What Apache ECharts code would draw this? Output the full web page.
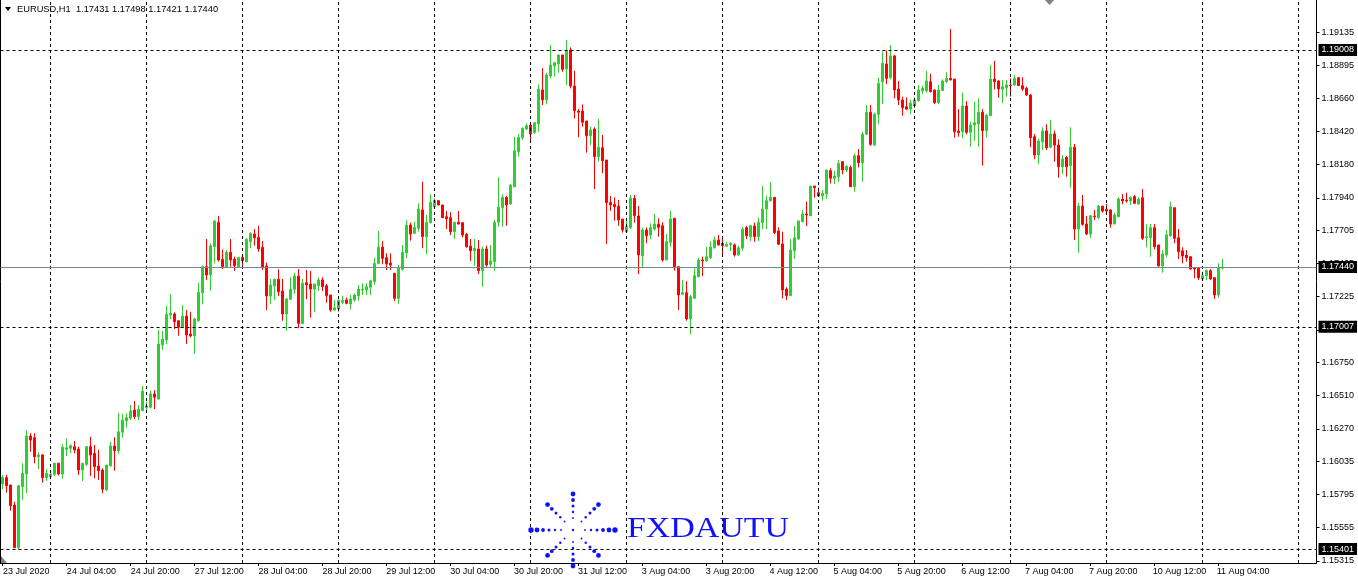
<!DOCTYPE html>
<html>
<head>
<meta charset="utf-8">
<style>
html,body{margin:0;padding:0;background:#fff;}
#chart{width:1358px;height:582px;}
</style>
<script src="https://cdn.jsdelivr.net/npm/echarts@6.0.0/dist/echarts.min.js"></script>
</head>
<body>
<div id="chart"></div>
<script>
// EURUSD H1, bars from 23 Jul 2020 12:00 to 11 Aug 2020 05:00
const open = [
1.15871,1.15917,1.15864,1.15719,1.15411,1.15852,1.15943,1.16218,1.16206,1.16068,
1.16081,1.15917,1.15924,1.15941,1.16021,1.15943,1.16122,1.16129,1.16141,1.16124,
1.15972,1.16013,1.16141,1.16093,1.16001,1.15972,1.15828,1.16003,1.16146,1.16112,
1.16245,1.16328,1.16346,1.16406,1.16358,1.16401,1.16423,1.16425,1.16522,1.16485,
1.16876,1.16912,1.17093,1.17100,1.17051,1.17001,1.17085,1.16955,1.16943,1.17051,
1.17254,1.17442,1.17382,1.17586,1.17763,1.17495,1.17437,1.17546,1.17497,1.17442,
1.17510,1.17478,1.17622,1.17678,1.17654,1.17582,1.17447,1.17230,1.17304,1.17351,
1.17266,1.17100,1.17206,1.17278,1.17374,1.17032,1.17326,1.17317,1.17280,1.17304,
1.17346,1.17304,1.17237,1.17129,1.17136,1.17184,1.17201,1.17172,1.17201,1.17232,
1.17273,1.17273,1.17293,1.17333,1.17466,1.17584,1.17507,1.17468,1.17394,1.17213,
1.17423,1.17541,1.17743,1.17683,1.17719,1.17852,1.17659,1.17760,1.17875,1.17919,
1.17888,1.17803,1.17796,1.17695,1.17763,1.17760,1.17676,1.17591,1.17557,1.17570,
1.17413,1.17570,1.17459,1.17478,1.17763,1.17868,1.17943,1.17895,1.18020,1.18273,
1.18374,1.18437,1.18466,1.18413,1.18473,1.18719,1.18647,1.18820,1.18892,1.18907,
1.18972,1.18871,1.19008,1.18748,1.18567,1.18567,1.18495,1.18389,1.18437,1.18237,
1.18302,1.18213,1.17907,1.17893,1.17880,1.17786,1.17695,1.17724,1.17936,1.17808,
1.17521,1.17707,1.17671,1.17714,1.17750,1.17738,1.17490,1.17618,1.17791,1.17442,
1.17242,1.17254,1.17064,1.17213,1.17369,1.17490,1.17483,1.17507,1.17579,1.17635,
1.17611,1.17589,1.17599,1.17599,1.17526,1.17575,1.17724,1.17659,1.17736,1.17659,
1.17760,1.17859,1.17919,1.17943,1.17700,1.17606,1.17280,1.17232,1.17557,1.17642,
1.17767,1.17823,1.17810,1.18025,1.17977,1.17953,1.17967,1.18136,1.18081,1.18092,
1.18201,1.18141,1.18160,1.18020,1.18244,1.18193,1.18399,1.18558,1.18321,1.18543,
1.18779,1.18907,1.18808,1.18965,1.18726,1.18647,1.18598,1.18581,1.18603,1.18642,
1.18714,1.18714,1.18779,1.18719,1.18627,1.18714,1.18779,1.18803,1.18798,1.18423,
1.18417,1.18603,1.18413,1.18466,1.18473,1.18558,1.18425,1.18533,1.18798,1.18784,
1.18726,1.18736,1.18755,1.18755,1.18808,1.18750,1.18731,1.18683,1.18381,1.18249,
1.18345,1.18423,1.18305,1.18401,1.18321,1.18164,1.18232,1.18172,1.18305,1.17714,
1.17880,1.17750,1.17678,1.17808,1.17796,1.17880,1.17857,1.17852,1.17750,1.17803,
1.17931,1.17924,1.17917,1.17948,1.17895,1.17940,1.17651,1.17651,1.17724,1.17599,
1.17447,1.17526,1.17664,1.17868,1.17651,1.17557,1.17526,1.17514,1.17434,1.17430,
1.17353,1.17377,1.17413,1.17362,1.17237,1.17431];
const close = [
1.15917,1.15859,1.15714,1.15411,1.15859,1.15948,1.16218,1.16189,1.16068,1.16081,
1.15917,1.15948,1.15943,1.16021,1.15943,1.16136,1.16133,1.16148,1.16117,1.15972,
1.16021,1.16141,1.16081,1.15996,1.15967,1.15833,1.16008,1.16146,1.16112,1.16249,
1.16334,1.16350,1.16399,1.16358,1.16411,1.16543,1.16435,1.16522,1.16498,1.16883,
1.16919,1.17098,1.17105,1.17044,1.17004,1.17085,1.16948,1.16941,1.17064,1.17257,
1.17442,1.17382,1.17593,1.17772,1.17490,1.17442,1.17546,1.17490,1.17449,1.17507,
1.17485,1.17640,1.17683,1.17651,1.17570,1.17434,1.17230,1.17310,1.17351,1.17261,
1.17100,1.17208,1.17280,1.17374,1.17032,1.17322,1.17310,1.17280,1.17317,1.17346,
1.17297,1.17232,1.17129,1.17145,1.17201,1.17196,1.17177,1.17208,1.17237,1.17280,
1.17280,1.17297,1.17340,1.17466,1.17584,1.17502,1.17461,1.17454,1.17213,1.17430,
1.17546,1.17743,1.17678,1.17726,1.17859,1.17659,1.17763,1.17907,1.17919,1.17888,
1.17796,1.17789,1.17695,1.17763,1.17750,1.17671,1.17586,1.17557,1.17575,1.17413,
1.17570,1.17454,1.17483,1.17763,1.17871,1.17943,1.17888,1.18032,1.18280,1.18377,
1.18442,1.18461,1.18401,1.18482,1.18726,1.18647,1.18827,1.18900,1.18916,1.18972,
1.18868,1.19008,1.18748,1.18569,1.18558,1.18485,1.18389,1.18430,1.18237,1.18305,
1.18208,1.17904,1.17888,1.17875,1.17779,1.17707,1.17736,1.17936,1.17810,1.17526,
1.17707,1.17666,1.17724,1.17750,1.17726,1.17490,1.17622,1.17786,1.17442,1.17237,
1.17254,1.17064,1.17225,1.17377,1.17490,1.17483,1.17514,1.17584,1.17635,1.17599,
1.17594,1.17604,1.17611,1.17526,1.17579,1.17714,1.17666,1.17738,1.17659,1.17763,
1.17859,1.17919,1.17943,1.17688,1.17604,1.17273,1.17232,1.17562,1.17651,1.17772,
1.17823,1.17815,1.18025,1.18013,1.17953,1.17972,1.18141,1.18081,1.18097,1.18189,
1.18141,1.18165,1.18020,1.18244,1.18193,1.18401,1.18558,1.18326,1.18545,1.18767,
1.18912,1.18803,1.18965,1.18719,1.18647,1.18591,1.18581,1.18623,1.18647,1.18719,
1.18731,1.18784,1.18707,1.18627,1.18719,1.18784,1.18803,1.18791,1.18417,1.18410,
1.18603,1.18413,1.18466,1.18482,1.18558,1.18425,1.18538,1.18798,1.18779,1.18726,
1.18743,1.18755,1.18750,1.18803,1.18750,1.18726,1.18683,1.18374,1.18249,1.18350,
1.18423,1.18302,1.18401,1.18321,1.18164,1.18220,1.18164,1.18305,1.17714,1.17880,
1.17748,1.17678,1.17810,1.17803,1.17880,1.17844,1.17844,1.17750,1.17815,1.17931,
1.17917,1.17917,1.17943,1.17900,1.17931,1.17647,1.17659,1.17724,1.17586,1.17447,
1.17533,1.17671,1.17875,1.17647,1.17550,1.17519,1.17507,1.17425,1.17425,1.17362,
1.17377,1.17413,1.17353,1.17237,1.17437,1.17440];
const low = [
1.15835,1.15808,1.15678,1.15411,1.15401,1.15755,1.15804,1.16105,1.16021,1.15977,
1.15881,1.15893,1.15905,1.15929,1.15934,1.15909,1.16073,1.16093,1.16093,1.15936,
1.15893,1.16001,1.15929,1.15912,1.15900,1.15804,1.15820,1.15996,1.15967,1.16088,
1.16206,1.16278,1.16334,1.16341,1.16334,1.16401,1.16394,1.16418,1.16413,1.16485,
1.16840,1.16883,1.17064,1.16991,1.16943,1.17001,1.16883,1.16931,1.16811,1.17044,
1.17170,1.17346,1.17268,1.17466,1.17478,1.17425,1.17437,1.17442,1.17411,1.17437,
1.17437,1.17473,1.17575,1.17594,1.17550,1.17418,1.17129,1.17172,1.17201,1.17230,
1.17051,1.16979,1.17206,1.17244,1.16996,1.17032,1.17206,1.17073,1.17116,1.17266,
1.17266,1.17181,1.17116,1.17121,1.17116,1.17170,1.17170,1.17134,1.17189,1.17196,
1.17237,1.17237,1.17237,1.17310,1.17459,1.17459,1.17418,1.17418,1.17194,1.17174,
1.17413,1.17502,1.17630,1.17678,1.17695,1.17575,1.17533,1.17755,1.17864,1.17883,
1.17796,1.17714,1.17671,1.17642,1.17748,1.17654,1.17579,1.17483,1.17449,1.17389,
1.17297,1.17442,1.17434,1.17413,1.17731,1.17731,1.17738,1.17888,1.18016,1.18237,
1.18357,1.18430,1.18350,1.18401,1.18417,1.18610,1.18615,1.18803,1.18815,1.18844,
1.18851,1.18755,1.18731,1.18514,1.18377,1.18454,1.18266,1.18321,1.18003,1.18201,
1.18117,1.17606,1.17846,1.17774,1.17738,1.17688,1.17695,1.17714,1.17760,1.17389,
1.17437,1.17611,1.17640,1.17702,1.17659,1.17478,1.17490,1.17586,1.17413,1.17129,
1.17237,1.17051,1.16953,1.17208,1.17365,1.17374,1.17478,1.17497,1.17572,1.17594,
1.17526,1.17584,1.17555,1.17514,1.17521,1.17555,1.17642,1.17627,1.17622,1.17627,
1.17712,1.17714,1.17912,1.17678,1.17599,1.17213,1.17201,1.17232,1.17497,1.17635,
1.17763,1.17736,1.17810,1.17940,1.17948,1.17919,1.17931,1.18044,1.18040,1.18056,
1.18110,1.18124,1.18020,1.17984,1.18160,1.18056,1.18399,1.18316,1.18316,1.18471,
1.18618,1.18762,1.18796,1.18659,1.18610,1.18533,1.18574,1.18545,1.18587,1.18634,
1.18690,1.18699,1.18702,1.18618,1.18618,1.18712,1.18772,1.18791,1.18374,1.18381,
1.18370,1.18399,1.18309,1.18352,1.18309,1.18172,1.18377,1.18533,1.18724,1.18663,
1.18623,1.18671,1.18671,1.18750,1.18750,1.18714,1.18676,1.18305,1.18220,1.18184,
1.18285,1.18285,1.18298,1.18201,1.18085,1.18112,1.18092,1.18013,1.17635,1.17543,
1.17738,1.17671,1.17651,1.17779,1.17786,1.17832,1.17828,1.17724,1.17750,1.17803,
1.17893,1.17904,1.17888,1.17895,1.17888,1.17635,1.17582,1.17514,1.17567,1.17442,
1.17398,1.17510,1.17659,1.17611,1.17497,1.17466,1.17478,1.17418,1.17358,1.17346,
1.17346,1.17346,1.17346,1.17208,1.17218,1.17421];
const high = [
1.15936,1.15936,1.15864,1.15743,1.15864,1.16021,1.16261,1.16238,1.16238,1.16100,
1.16088,1.15979,1.15967,1.16025,1.16025,1.16158,1.16201,1.16158,1.16182,1.16141,
1.16021,1.16141,1.16213,1.16153,1.16117,1.15984,1.16008,1.16177,1.16209,1.16386,
1.16377,1.16382,1.16442,1.16471,1.16442,1.16579,1.16466,1.16545,1.16550,1.16984,
1.16977,1.17158,1.17244,1.17112,1.17051,1.17165,1.17129,1.17116,1.17073,1.17326,
1.17449,1.17642,1.17611,1.17779,1.17808,1.17567,1.17562,1.17642,1.17514,1.17514,
1.17521,1.17647,1.17690,1.17714,1.17736,1.17627,1.17471,1.17353,1.17353,1.17423,
1.17353,1.17218,1.17365,1.17398,1.17425,1.17353,1.17418,1.17411,1.17317,1.17365,
1.17365,1.17317,1.17237,1.17201,1.17201,1.17232,1.17218,1.17237,1.17249,1.17310,
1.17322,1.17322,1.17346,1.17507,1.17700,1.17627,1.17538,1.17538,1.17394,1.17454,
1.17599,1.17779,1.17760,1.17767,1.17900,1.18056,1.17815,1.17965,1.17936,1.17924,
1.17888,1.17844,1.17835,1.17767,1.17844,1.17763,1.17687,1.17642,1.17642,1.17635,
1.17586,1.17594,1.17599,1.17779,1.18088,1.17965,1.17953,1.18039,1.18381,1.18401,
1.18449,1.18478,1.18473,1.18482,1.18760,1.18876,1.18844,1.19044,1.18923,1.18972,
1.18972,1.19080,1.19027,1.18858,1.18581,1.18615,1.18495,1.18454,1.18449,1.18509,
1.18394,1.18213,1.17953,1.17943,1.17924,1.17786,1.17774,1.17960,1.17960,1.17880,
1.17724,1.17726,1.17755,1.17823,1.17791,1.17763,1.17678,1.17846,1.17796,1.17442,
1.17346,1.17338,1.17237,1.17430,1.17507,1.17514,1.17586,1.17627,1.17659,1.17671,
1.17654,1.17622,1.17618,1.17611,1.17594,1.17731,1.17736,1.17743,1.17760,1.17796,
1.18025,1.17953,1.18056,1.17943,1.17726,1.17695,1.17293,1.17642,1.17736,1.17774,
1.17852,1.17912,1.18025,1.18025,1.18013,1.17996,1.18141,1.18153,1.18133,1.18213,
1.18201,1.18177,1.18172,1.18261,1.18292,1.18417,1.18610,1.18610,1.18555,1.18808,
1.18996,1.19003,1.19044,1.18972,1.18784,1.18671,1.18666,1.18647,1.18666,1.18755,
1.18750,1.18856,1.18835,1.18724,1.18755,1.18796,1.18847,1.19160,1.18798,1.18581,
1.18699,1.18639,1.18490,1.18634,1.18659,1.18581,1.18545,1.18900,1.18929,1.18791,
1.18791,1.18791,1.18803,1.18827,1.18808,1.18811,1.18743,1.18690,1.18401,1.18365,
1.18449,1.18471,1.18502,1.18425,1.18363,1.18249,1.18242,1.18449,1.18329,1.17904,
1.17960,1.17808,1.17815,1.17852,1.17888,1.17880,1.17895,1.17857,1.17832,1.17943,
1.17967,1.17977,1.17948,1.17960,1.17943,1.18003,1.17750,1.17750,1.17750,1.17599,
1.17562,1.17707,1.17912,1.17868,1.17714,1.17582,1.17562,1.17514,1.17437,1.17434,
1.17406,1.17423,1.17425,1.17365,1.17466,1.17498];

// time axis labels, one every 16 bars
const timeLabels = ["23 Jul 2020","24 Jul 04:00","24 Jul 20:00","27 Jul 12:00","28 Jul 04:00",
  "28 Jul 20:00","29 Jul 12:00","30 Jul 04:00","30 Jul 20:00","31 Jul 12:00","3 Aug 04:00",
  "3 Aug 20:00","4 Aug 12:00","5 Aug 04:00","5 Aug 20:00","6 Aug 12:00","7 Aug 04:00",
  "7 Aug 20:00","10 Aug 12:00","11 Aug 04:00"];
const labelStep = 16;
// day separators (bar index of each 00:00)
const daySeparators = [12,36,60,84,108,132,156,180,204,228,252,276,300,324];
// price scale labels
const priceTicks = [1.19135,1.18895,1.18660,1.18420,1.18180,1.17940,1.17705,1.17465,1.17225,
  1.16985,1.16750,1.16510,1.16270,1.16035,1.15795,1.15555,1.15315];
const hLevels = [1.19008, 1.17007, 1.15401];
const bidPrice = 1.17440;
const header = "EURUSD,H1  1.17431 1.17498 1.17421 1.17440";
const watermark = "FXDAUTU";

const SLOTS = 329;
const cats = [];
for (let i = 0; i < SLOTS; i++) cats.push(String(i));
const candles = open.map((o, i) => [o, close[i], low[i], high[i]]);

const FONT = '"Liberation Sans", Arial, sans-serif';
const showLabel = (idx) => idx % labelStep === 0 && idx / labelStep < timeLabels.length;
const Y_MIN = 1.15300, Y_MAX = 1.193694;

const boxLabel = (v) => ({
  show: true, position: 'end', distance: 2, formatter: v.toFixed(5),
  backgroundColor: '#000', color: '#fff', fontFamily: FONT, fontSize: 9,
  padding: [2, 3, 1, 3]
});

const levelSeries = hLevels.map((v, k) => ({
  type: 'line', name: 'level' + k, data: [], silent: true,
  markLine: {
    symbol: 'none', silent: true, animation: false, precision: 5,
    lineStyle: {type: [3, 3], color: '#000', width: 1},
    label: boxLabel(v),
    data: [{yAxis: v}]
  }
}));
levelSeries.push({
  type: 'line', name: 'bid', data: [], silent: true,
  markLine: {
    symbol: 'none', silent: true, animation: false, precision: 5,
    lineStyle: {type: 'solid', color: '#778899', width: 1},
    label: boxLabel(bidPrice),
    data: [{yAxis: bidPrice}]
  }
});

// watermark starburst (decoration)
const burst = [];
const cx = 573, cy = 530;
const dists = [12, 18, 24, 30, 36];
const radii = [0.9, 1.2, 1.5, 1.9, 2.4];
for (let k = 0; k < 8; k++) {
  const a = k * Math.PI / 4;
  dists.forEach((d, j) => {
    burst.push({type: 'circle', silent: true, z: 100,
      shape: {cx: cx + d * Math.cos(a), cy: cy - d * Math.sin(a), r: radii[j]},
      style: {fill: '#1010ff'}});
  });
}
burst.push({type: 'circle', silent: true, z: 100, shape: {cx: cx - 42, cy: cy, r: 2.7}, style: {fill: '#1010ff'}});
burst.push({type: 'circle', silent: true, z: 100, shape: {cx: cx + 42, cy: cy, r: 2.7}, style: {fill: '#1010ff'}});
burst.push({type: 'circle', silent: true, z: 100, shape: {cx: cx, cy: cy, r: 1.2}, style: {fill: '#1010ff'}});

const chart = echarts.init(document.getElementById('chart'), null, {renderer: 'canvas'});
chart.setOption({
  animation: false,
  backgroundColor: '#fff',
  grid: [
    {left: 0.5, top: 0, width: SLOTS * 4, height: 563, containLabel: false},
    {left: -1.5, top: 0, width: SLOTS * 4, height: 563, containLabel: false}
  ],
  xAxis: [{
    gridIndex: 0, type: 'category', data: cats, boundaryGap: true,
    axisLine: {show: true, lineStyle: {color: '#000', width: 1}},
    axisTick: {show: true, alignWithLabel: true, interval: showLabel, length: 3,
      lineStyle: {color: '#000'}},
    axisLabel: {show: false},
    splitLine: {show: false}
  }, {
    gridIndex: 1, type: 'category', data: cats, boundaryGap: true,
    axisLine: {show: false}, axisTick: {show: false},
    axisLabel: {interval: showLabel, formatter: (v, idx) => timeLabels[idx / labelStep] || '',
      align: 'left', margin: 4, color: '#000', fontFamily: FONT, fontSize: 9},
    splitLine: {show: false}
  }],
  yAxis: [{
    gridIndex: 0, type: 'value', position: 'right', min: Y_MIN, max: Y_MAX, scale: true,
    axisLine: {show: true, lineStyle: {color: '#000', width: 1}},
    axisTick: {show: true, length: 3, customValues: priceTicks, lineStyle: {color: '#000'}},
    axisLabel: {customValues: priceTicks, formatter: (v) => v.toFixed(5), margin: 5,
      color: '#000', fontFamily: FONT, fontSize: 9},
    splitLine: {show: false}
  }, {
    gridIndex: 0, type: 'value', position: 'left', min: Y_MIN, max: Y_MAX, scale: true,
    axisLine: {show: true, onZero: false, lineStyle: {color: '#000', width: 1}},
    axisTick: {show: false}, axisLabel: {show: false}, splitLine: {show: false}
  }, {
    gridIndex: 1, type: 'value', show: false, min: Y_MIN, max: Y_MAX, scale: true
  }],
  series: [{
    type: 'candlestick',
    xAxisIndex: 0, yAxisIndex: 0,
    data: candles,
    barWidth: 2,
    itemStyle: {color: '#32CD32', color0: '#FF0000', borderColor: '#32CD32',
      borderColor0: '#FF0000', borderWidth: 1},
    emphasis: {disabled: true},
    markLine: {
      symbol: 'none', silent: true, animation: false,
      lineStyle: {type: [3, 3], color: '#000', width: 1},
      label: {show: false},
      data: daySeparators.map(i => ({xAxis: String(i)}))
    }
  }].concat(levelSeries),
  graphic: [
    {type: 'polygon', silent: true, shape: {points: [[5, 7], [11, 7], [8, 11]]}, style: {fill: '#000'}},
    {type: 'text', silent: true, x: 17, y: 9,
      style: {text: header, font: '9.3px "Liberation Sans"', fill: '#000', verticalAlign: 'middle'}},
    {type: 'polygon', silent: true, shape: {points: [[1045, 0], [1054, 0], [1049.5, 5]]}, style: {fill: '#808080'}},
    {type: 'polygon', silent: true, shape: {points: [[1, 556], [1, 563], [7, 563]]}, style: {fill: '#808080'}},
    {type: 'text', silent: true, x: 627, y: 529, scaleX: 1.13, z: 100,
      style: {text: watermark, font: '30px "Liberation Serif"', fill: '#1010ff', verticalAlign: 'middle'}},
    ...burst
  ]
});
</script>
</body>
</html>
